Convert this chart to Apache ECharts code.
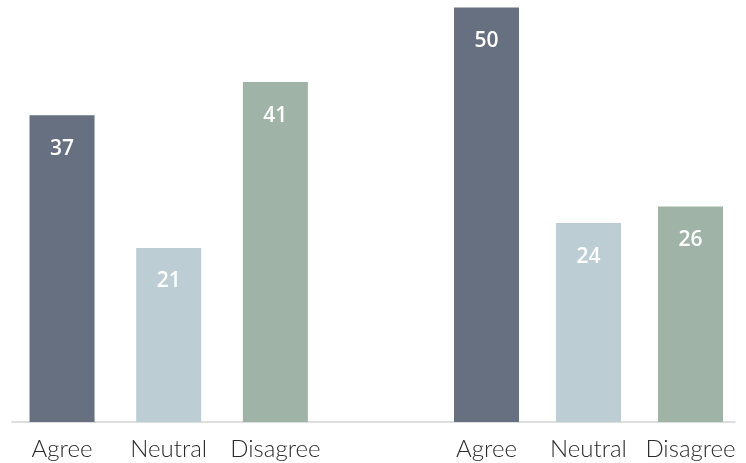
<!DOCTYPE html>
<html>
<head>
<meta charset="utf-8">
<script src="https://cdn.jsdelivr.net/npm/echarts@6/dist/echarts.min.js"></script>
<style>html,body{margin:0;padding:0;background:#fff}#c{width:746px;height:463px}</style>
</head>
<body>
<div id="c"></div>
<script>
var categories = ['Agree', 'Neutral', 'Disagree'];
var group1Values = [37, 21, 41];
var group2Values = [50, 24, 26];
var barColors = ['#667080', '#bccdd4', '#9fb3a6'];

var chart = echarts.init(document.getElementById('c'), null, {renderer: 'canvas'});

function mkData(vals) {
  return vals.map(function (v, i) {
    return {value: v, itemStyle: {color: barColors[i]}};
  });
}
var catAxisCommon = {
  type: 'category',
  data: categories,
  axisLine: {show: false},
  axisTick: {show: false},
  axisLabel: {
    interval: 0,
    hideOverlap: false,
    color: '#2b2b2b',
    fontSize: 24,
    fontWeight: 300,
    fontFamily: 'Lato',
    margin: 15
  }
};
var valAxisCommon = {
  type: 'value', min: 0, max: 50, show: false,
  splitLine: {show: false}
};
var labelCommon = {
  show: true,
  position: 'insideTop',
  distance: 23,
  color: '#ffffff',
  fontSize: 21,
  fontWeight: 600,
  fontFamily: 'Open Sans'
};

chart.setOption({
  animation: false,
  backgroundColor: '#ffffff',
  grid: [
    {left: 8.7, width: 320, top: 7.5, bottom: 41},
    {left: 435.5, width: 306, top: 7.5, bottom: 41},
    {left: 12, right: 11, top: 7.5, bottom: 41}
  ],
  xAxis: [
    Object.assign({gridIndex: 0}, catAxisCommon),
    Object.assign({gridIndex: 1}, catAxisCommon),
    {
      gridIndex: 2, type: 'value', min: 0, max: 1,
      axisLine: {show: true, lineStyle: {color: '#d4d4d4', width: 1.5}},
      axisTick: {show: false}, axisLabel: {show: false}, splitLine: {show: false}
    }
  ],
  yAxis: [
    Object.assign({gridIndex: 0}, valAxisCommon),
    Object.assign({gridIndex: 1}, valAxisCommon),
    Object.assign({gridIndex: 2}, valAxisCommon)
  ],
  series: [
    {
      type: 'bar', xAxisIndex: 0, yAxisIndex: 0,
      barWidth: 65, data: mkData(group1Values), label: labelCommon
    },
    {
      type: 'bar', xAxisIndex: 1, yAxisIndex: 1,
      barWidth: 65, data: mkData(group2Values), label: labelCommon
    }
  ]
});
</script>
</body>
</html>
